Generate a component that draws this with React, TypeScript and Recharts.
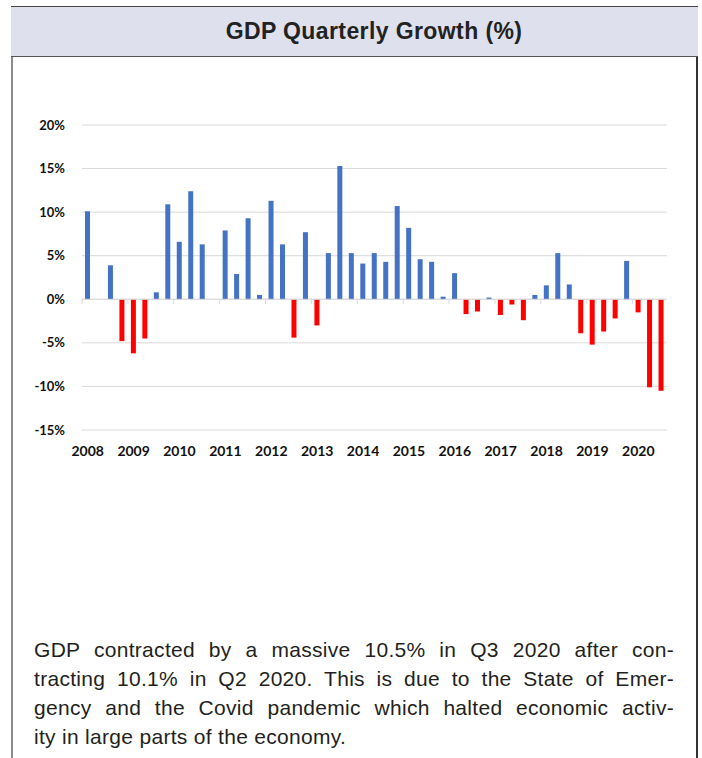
import { BarChart, Bar, Cell, CartesianGrid, XAxis, YAxis, ReferenceLine } from 'recharts'

// 2008 Q1 .. 2020 Q3
const years = ['2008', '2009', '2010', '2011', '2012', '2013', '2014', '2015', '2016', '2017', '2018', '2019', '2020']
const quarterNames = ['Q1', 'Q2', 'Q3', 'Q4']

const growth = [
  10.1, 0, 3.9, -4.8,
  -6.2, -4.5, 0.8, 10.9,
  6.6, 12.4, 6.3, 0,
  7.9, 2.9, 9.3, 0.5,
  11.3, 6.3, -4.4, 7.7,
  -3.0, 5.3, 15.3, 5.3,
  4.1, 5.3, 4.3, 10.7,
  8.2, 4.6, 4.3, 0.3,
  3.0, -1.7, -1.4, 0.2,
  -1.8, -0.6, -2.4, 0.5,
  1.6, 5.3, 1.7, -3.9,
  -5.2, -3.7, -2.2, 4.4,
  -1.5, -10.1, -10.5,
]

const yTicks = [-15, -10, -5, 0, 5, 10, 15, 20]

const bodyLines = [
  'GDP contracted by a massive 10.5% in Q3 2020 after con-',
  'tracting 10.1% in Q2 2020. This is due to the State of Emer-',
  'gency and the Covid pandemic which halted economic activ-',
  'ity in large parts of the economy.',
]

const data = growth.map((v, i) => ({
  label: `${years[Math.floor(i / 4)]} ${quarterNames[i % 4]}`,
  value: v,
}))

const POS = '#4472C4'
const NEG = '#FF0000'
const GRID = '#d9d9d9'

// zero axis line with small ticks at year boundaries
function ZeroAxis(props: any) {
  const { x1, x2, y1 } = props
  const step = (x2 - x1) / data.length
  const marks = []
  for (let i = 0; i <= data.length; i += 4) {
    const x = x1 + i * step
    marks.push(<line key={i} x1={x} x2={x} y1={y1} y2={y1 + 5} stroke={GRID} strokeWidth={1} />)
  }
  return (
    <g>
      <line x1={x1} x2={x2} y1={y1} y2={y1} stroke={GRID} strokeWidth={1} />
      {marks}
    </g>
  )
}

export default function App() {
  return (
    <div
      style={{
        position: 'absolute',
        left: 0,
        top: 0,
        width: 702,
        height: 758,
        overflow: 'hidden',
        background: '#fff',
        fontFamily: '"Liberation Sans", Arial, sans-serif',
      }}
    >
      {/* frame */}
      <div style={{ position: 'absolute', left: 11, top: 6, width: 2, height: 760, background: '#8c8c8c' }} />
      <div style={{ position: 'absolute', left: 696, top: 6, width: 1.5, height: 760, background: '#333' }} />
      <div
        style={{
          position: 'absolute',
          left: 11,
          top: 6,
          width: 687,
          height: 51,
          boxSizing: 'border-box',
          background: '#dfe0ed',
          borderTop: '1.5px solid #444',
          borderBottom: '1.5px solid #555',
        }}
      />
      <div
        style={{
          position: 'absolute',
          left: 174,
          top: 6,
          width: 400,
          height: 51,
          lineHeight: '51px',
          textAlign: 'center',
          fontSize: 23,
          letterSpacing: 0.4,
          fontWeight: 'bold',
          color: '#222',
        }}
      >
        GDP Quarterly Growth (%)
      </div>

      <div style={{ position: 'absolute', left: 0, top: 0 }}>
        <BarChart width={702} height={480} data={data} margin={{ top: 125, right: 35, bottom: 20, left: 0 }}>
          <CartesianGrid vertical={false} stroke={GRID} />
          <XAxis
            dataKey="label"
            interval={3}
            axisLine={false}
            tickLine={false}
            tickSize={0}
            tickMargin={16}
            height={30}
            tickFormatter={(v: string) => v.slice(0, 4)}
            tick={{ fill: '#111', fontSize: 14, fontWeight: 'bold', fontFamily: 'Lato' }}
          />
          <YAxis
            domain={[-15, 20]}
            ticks={yTicks}
            width={82}
            axisLine={false}
            tickLine={false}
            tickSize={0}
            tickMargin={17}
            tickFormatter={(v: number) => `${v}%`}
            tick={{ fill: '#111', fontSize: 13, fontWeight: 'bold', fontFamily: 'Lato' }}
          />
          <ReferenceLine y={0} shape={ZeroAxis} />
          <Bar dataKey="value" barSize={5} isAnimationActive={false}>
            {data.map((d, i) => (
              <Cell key={i} fill={d.value >= 0 ? POS : NEG} />
            ))}
          </Bar>
        </BarChart>
      </div>

      <div
        style={{
          position: 'absolute',
          left: 34,
          top: 635,
          width: 640,
          fontSize: 21,
          letterSpacing: 0.3,
          lineHeight: '29px',
          color: '#231f20',
        }}
      >
        {bodyLines.map((line, i) => (
          <div
            key={i}
            style={{
              textAlign: 'justify',
              textAlignLast: i < bodyLines.length - 1 ? 'justify' : 'left',
              whiteSpace: 'nowrap',
            }}
          >
            {line}
          </div>
        ))}
      </div>
    </div>
  )
}
